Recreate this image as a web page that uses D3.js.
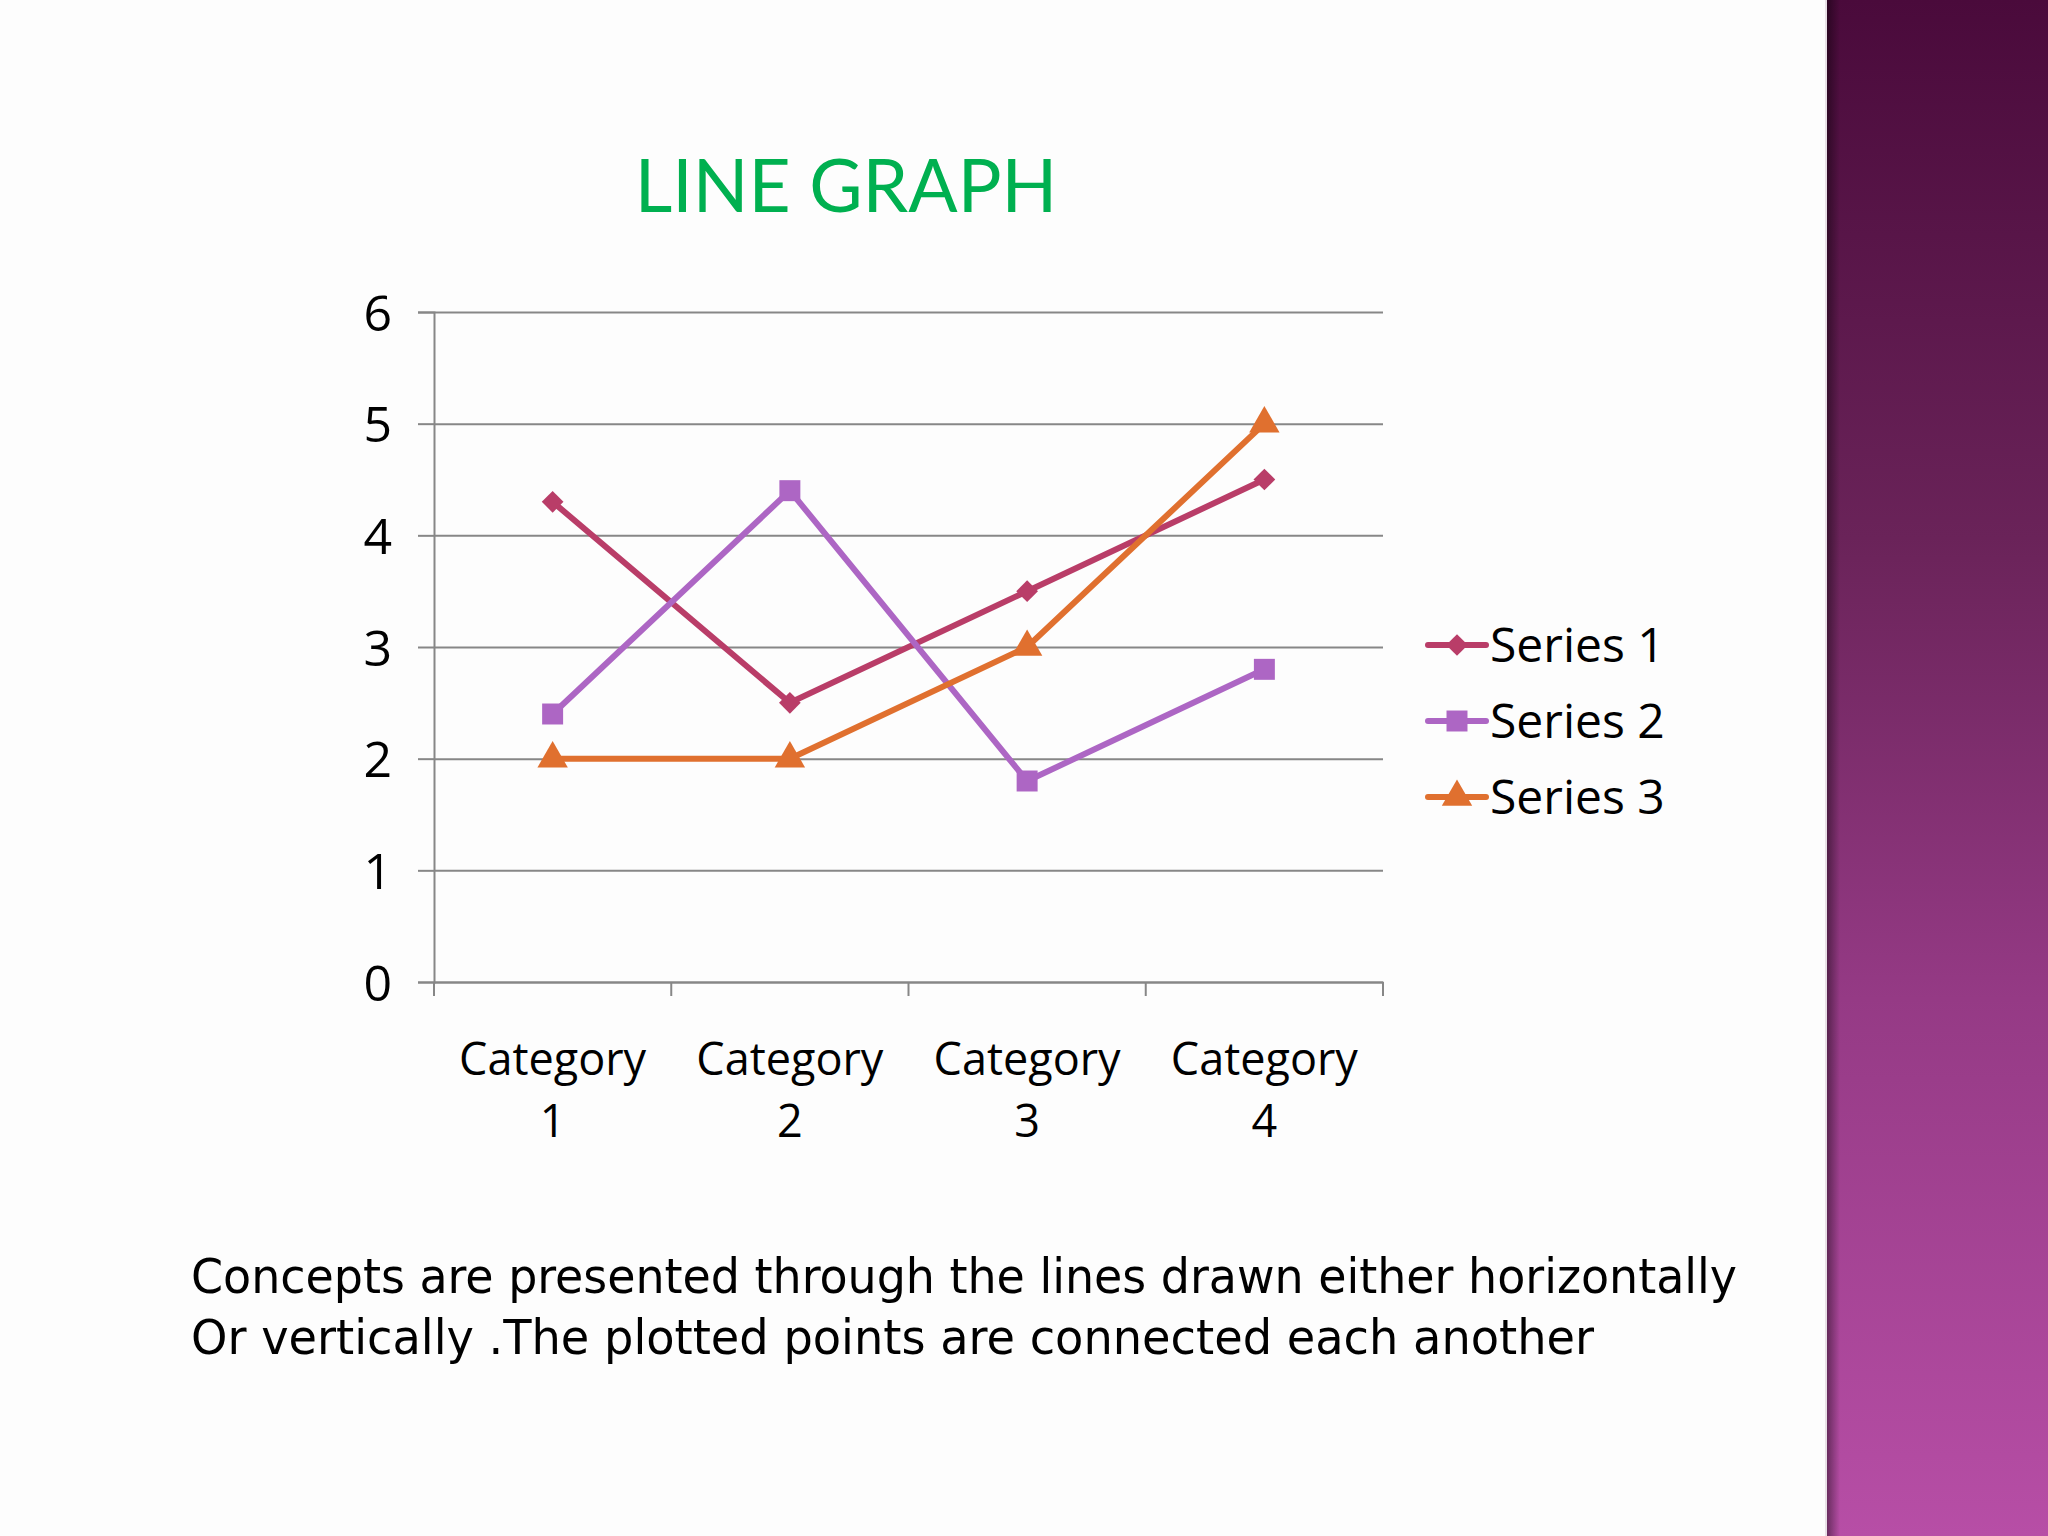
<!DOCTYPE html>
<html>

<head>
  <title>Line Graph</title>
  <script src="https://d3js.org/d3.v7.min.js"></script>
  <style>
    body { margin: 0; background: #ffffff; }
    .gridlines line { stroke: #878787; stroke-width: 2; }
    .gridlines .domain { stroke: none; }
    .axis text { font-family: "Open Sans", sans-serif; fill: #000; }
  </style>
</head>

<body>
  <svg id="svg" width="2048" height="1536"></svg>
  <script>
    // ---------- data ----------
    const categories = ["Category 1", "Category 2", "Category 3", "Category 4"];
    const seriesNames = ["Series 1", "Series 2", "Series 3"];
    const series1 = [4.3, 2.5, 3.5, 4.5];
    const series2 = [2.4, 4.4, 1.8, 2.8];
    const series3 = [2, 2, 3, 5];
    const yTicks = [0, 1, 2, 3, 4, 5, 6];
    const titleText = "LINE GRAPH";
    const noteLines = [
      "Concepts are presented through the lines drawn either horizontally",
      "Or vertically .The plotted points are connected each another"
    ];

    const svg = d3.select("#svg");
    const margins = { top: 312, left: 434, right: 1383, bottom: 982 };

    // background + right-hand purple band
    const defs = svg.append("defs");
    const grad = defs.append("linearGradient").attr("id", "band")
      .attr("x1", 0).attr("y1", 0).attr("x2", 0).attr("y2", 1);
    grad.append("stop").attr("offset", "0%").attr("stop-color", "#4a0a3b");
    grad.append("stop").attr("offset", "35%").attr("stop-color", "#6a2359");
    grad.append("stop").attr("offset", "65%").attr("stop-color", "#953a85");
    grad.append("stop").attr("offset", "100%").attr("stop-color", "#b74ea6");
    const shade = defs.append("linearGradient").attr("id", "shade")
      .attr("x1", 0).attr("y1", 0).attr("x2", 1).attr("y2", 0);
    shade.append("stop").attr("offset", "0%").attr("stop-color", "#000").attr("stop-opacity", 0.45);
    shade.append("stop").attr("offset", "100%").attr("stop-color", "#000").attr("stop-opacity", 0);

    svg.append("rect").attr("width", 2048).attr("height", 1536).attr("fill", "#fdfdfd");
    svg.append("rect").attr("x", 1826).attr("y", 0).attr("width", 222).attr("height", 1536)
      .attr("fill", "url(#band)");
    svg.append("rect").attr("x", 1826).attr("y", 0).attr("width", 14).attr("height", 1536)
      .attr("fill", "url(#shade)");
    svg.append("line").attr("x1", 1826).attr("x2", 1826).attr("y1", 0).attr("y2", 1536)
      .attr("stroke", "#e8e0e6").attr("stroke-width", 2);

    // title
    svg.append("text")
      .attr("x", 846).attr("y", 212)
      .attr("text-anchor", "middle")
      .attr("font-family", "Lato, sans-serif")
      .attr("font-size", 73)
      .attr("fill", "#00b050")
      .text(titleText);

    // ---------- scales ----------
    const xScale = d3.scaleBand().domain(categories)
      .range([margins.left, margins.right]);
    const yScale = d3.scaleLinear().domain([0, 6])
      .range([margins.bottom, margins.top]);
    const colorScale = d3.scaleOrdinal().domain(seriesNames)
      .range(["#b93d68", "#ad66c4", "#e0702f"]);
    const symbolScale = d3.scaleOrdinal().domain(seriesNames)
      .range([d3.symbolDiamond2, d3.symbolSquare, d3.symbolTriangle]);
    const symbolSize = { "Series 1": 300, "Series 2": 440, "Series 3": 400 };

    // ---------- gridlines ----------
    svg.append("g").attr("class", "gridlines")
      .attr("transform", `translate(${margins.left},0)`)
      .call(d3.axisLeft(yScale).tickValues(yTicks).tickSize(-(margins.right - margins.left)).tickFormat(""));

    // ---------- axes ----------
    const yAxis = svg.append("g").attr("class", "axis")
      .attr("transform", `translate(${margins.left},0)`)
      .call(d3.axisLeft(yScale).tickValues(yTicks).tickFormat(d3.format("d")).tickSize(16).tickPadding(26));
    yAxis.selectAll("text").attr("font-size", 50).attr("dy", "0.36em");

    const xAxis = svg.append("g").attr("class", "axis")
      .attr("transform", `translate(0,${margins.bottom})`)
      .call(d3.axisBottom(xScale).tickSize(0).tickFormat(""));
    xAxis.selectAll(".tick").remove();
    // tick marks at band edges
    const edges = categories.map(c => xScale(c)).concat([margins.right]);
    xAxis.selectAll("line.edge").data(edges).join("line").attr("class", "edge")
      .attr("x1", d => d).attr("x2", d => d).attr("y1", 0).attr("y2", 14)
      .attr("stroke", "#878787").attr("stroke-width", 2);
    svg.selectAll(".axis path.domain, .axis .tick line").attr("stroke", "#878787").attr("stroke-width", 2);

    // category labels, wrapped over two lines
    const catLines = categories.flatMap(c => c.split(" ").map((w, i) => ({ cat: c, word: w, line: i })));
    xAxis.selectAll("text.cat").data(catLines).join("text")
      .attr("class", "cat")
      .attr("text-anchor", "middle")
      .attr("font-family", "Open Sans, sans-serif")
      .attr("font-size", 45)
      .attr("fill", "#000")
      .attr("x", d => xScale(d.cat) + xScale.bandwidth() / 2)
      .attr("y", d => 93 + d.line * 62)
      .text(d => d.word);

    // ---------- lines + markers ----------
    const seriesData = [series1, series2, series3].map((vals, i) => ({
      name: seriesNames[i],
      values: vals.map((v, j) => ({ cat: categories[j], value: v }))
    }));

    const lineGenerator = d3.line()
      .x(d => xScale(d.cat) + xScale.bandwidth() / 2)
      .y(d => yScale(d.value));

    const gTags = svg.selectAll("g.series").data(seriesData).join("g").attr("class", "series");
    gTags.append("path")
      .attr("fill", "none")
      .attr("stroke", d => colorScale(d.name))
      .attr("stroke-width", 6)
      .attr("d", d => lineGenerator(d.values));
    gTags.each(function (s) {
      d3.select(this).selectAll("path.marker").data(s.values).join("path")
        .attr("class", "marker")
        .attr("fill", colorScale(s.name))
        .attr("d", d3.symbol().type(symbolScale(s.name)).size(symbolSize[s.name]))
        .attr("transform", d => `translate(${xScale(d.cat) + xScale.bandwidth() / 2},${yScale(d.value)})`);
    });

    // ---------- legend ----------
    const legend = svg.selectAll("g.legend").data(seriesNames).join("g")
      .attr("class", "legend")
      .attr("transform", (d, i) => `translate(1428,${645 + i * 76})`);
    legend.append("line")
      .attr("x1", 0).attr("x2", 58).attr("y1", 0).attr("y2", 0)
      .attr("stroke", d => colorScale(d)).attr("stroke-width", 6).attr("stroke-linecap", "round");
    legend.append("path")
      .attr("fill", d => colorScale(d))
      .attr("d", d => d3.symbol().type(symbolScale(d)).size(symbolSize[d])())
      .attr("transform", "translate(29,0)");
    legend.append("text")
      .attr("x", 62).attr("y", 0).attr("dy", "0.36em")
      .attr("font-family", "Open Sans, sans-serif")
      .attr("font-size", 48)
      .attr("fill", "#000")
      .text(d => d);

    // ---------- note ----------
    const noteWidths = [1546, 1403];
    svg.selectAll("text.note").data(noteLines).join("text")
      .attr("class", "note")
      .attr("x", 191).attr("y", (d, i) => 1293 + i * 61)
      .attr("font-family", "DejaVu Sans Condensed, DejaVu Sans, sans-serif")
      .attr("font-size", 48)
      .attr("fill", "#000")
      .attr("textLength", (d, i) => noteWidths[i])
      .attr("lengthAdjust", "spacingAndGlyphs")
      .text(d => d);
  </script>
</body>

</html>
